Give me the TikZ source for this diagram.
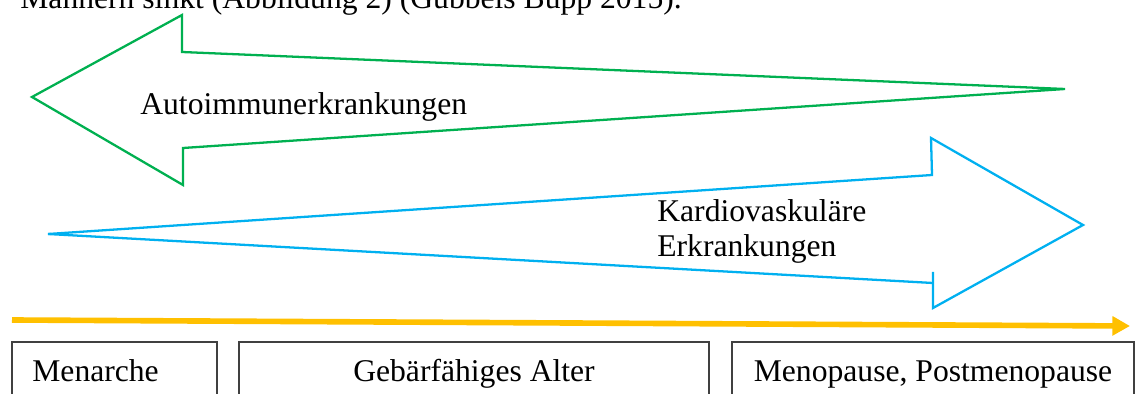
\documentclass[tikz,border=0pt]{standalone}
\usepackage{fontspec}
\setmainfont{Liberation Serif}
\usepackage{tikz}
\usetikzlibrary{arrows.meta}
\usetikzlibrary{positioning}
\definecolor{autogreen}{HTML}{00B050}
\definecolor{kardioblue}{HTML}{00B0F0}
\definecolor{timeorange}{HTML}{FFC000}
\tikzset{
    label text/.style={
           inner sep=0pt,
           font=\fontsize{18}{20}\selectfont,
           },
    big arrow/.style={
           line width=1.3pt,
           line join=miter,
           },
    phase box/.style={
           draw=black!75, line width=0.6pt,
           },
}

\begin{document}
\begin{tikzpicture}[x=0.02cm,y=-0.02cm]
      \useasboundingbox (0,0) rectangle (1135,394);
      % Textzeile oben (angeschnitten)
      \node[label text, anchor=base west] (fliesstext) at (20,9) {Männern sinkt (Abbildung 2) (Gubbels Bupp 2015).};
      % Autoimmunerkrankungen
      \draw[big arrow, autogreen] (32,97) -- (182,15) -- (182,52) -- (1065,89) -- (183,148) -- (183,185) -- cycle;
      \node[label text, anchor=base west] (autoimmun) at (140,115) {Autoimmunerkrankungen};
      % Kardiovaskulaere Erkrankungen
      \draw[big arrow, kardioblue] (48,234) -- (932,175) -- (931,138) -- (1083,225) -- (933,308) -- (933,272);
      \draw[big arrow, kardioblue] (933,283) -- (48,234);
      \node[label text, anchor=north west, align=left] (kardio) at (657,199) {Kardiovaskuläre\\Erkrankungen};
      % Zeitachse
      \coordinate (t0) at (12,320);
      \coordinate (t1) at (1130,326);
      \draw[timeorange, line width=3.2pt, -{Triangle[length=10pt,width=10.5pt]}] (t0) -- (t1);
      % Lebensphasen
      \draw[phase box] (12,342) rectangle (217,420);
      \draw[phase box] (239,342) rectangle (709,420);
      \draw[phase box] (732,342) rectangle (1134,420);
      \node[label text, anchor=base west] (menarche) at (32,382) {Menarche};
      \node[label text, anchor=base] (gebaer) at (474,382) {Gebärfähiges Alter};
      \node[label text, anchor=base] (meno) at (933,382) {Menopause, Postmenopause};
\end{tikzpicture}
\end{document}
